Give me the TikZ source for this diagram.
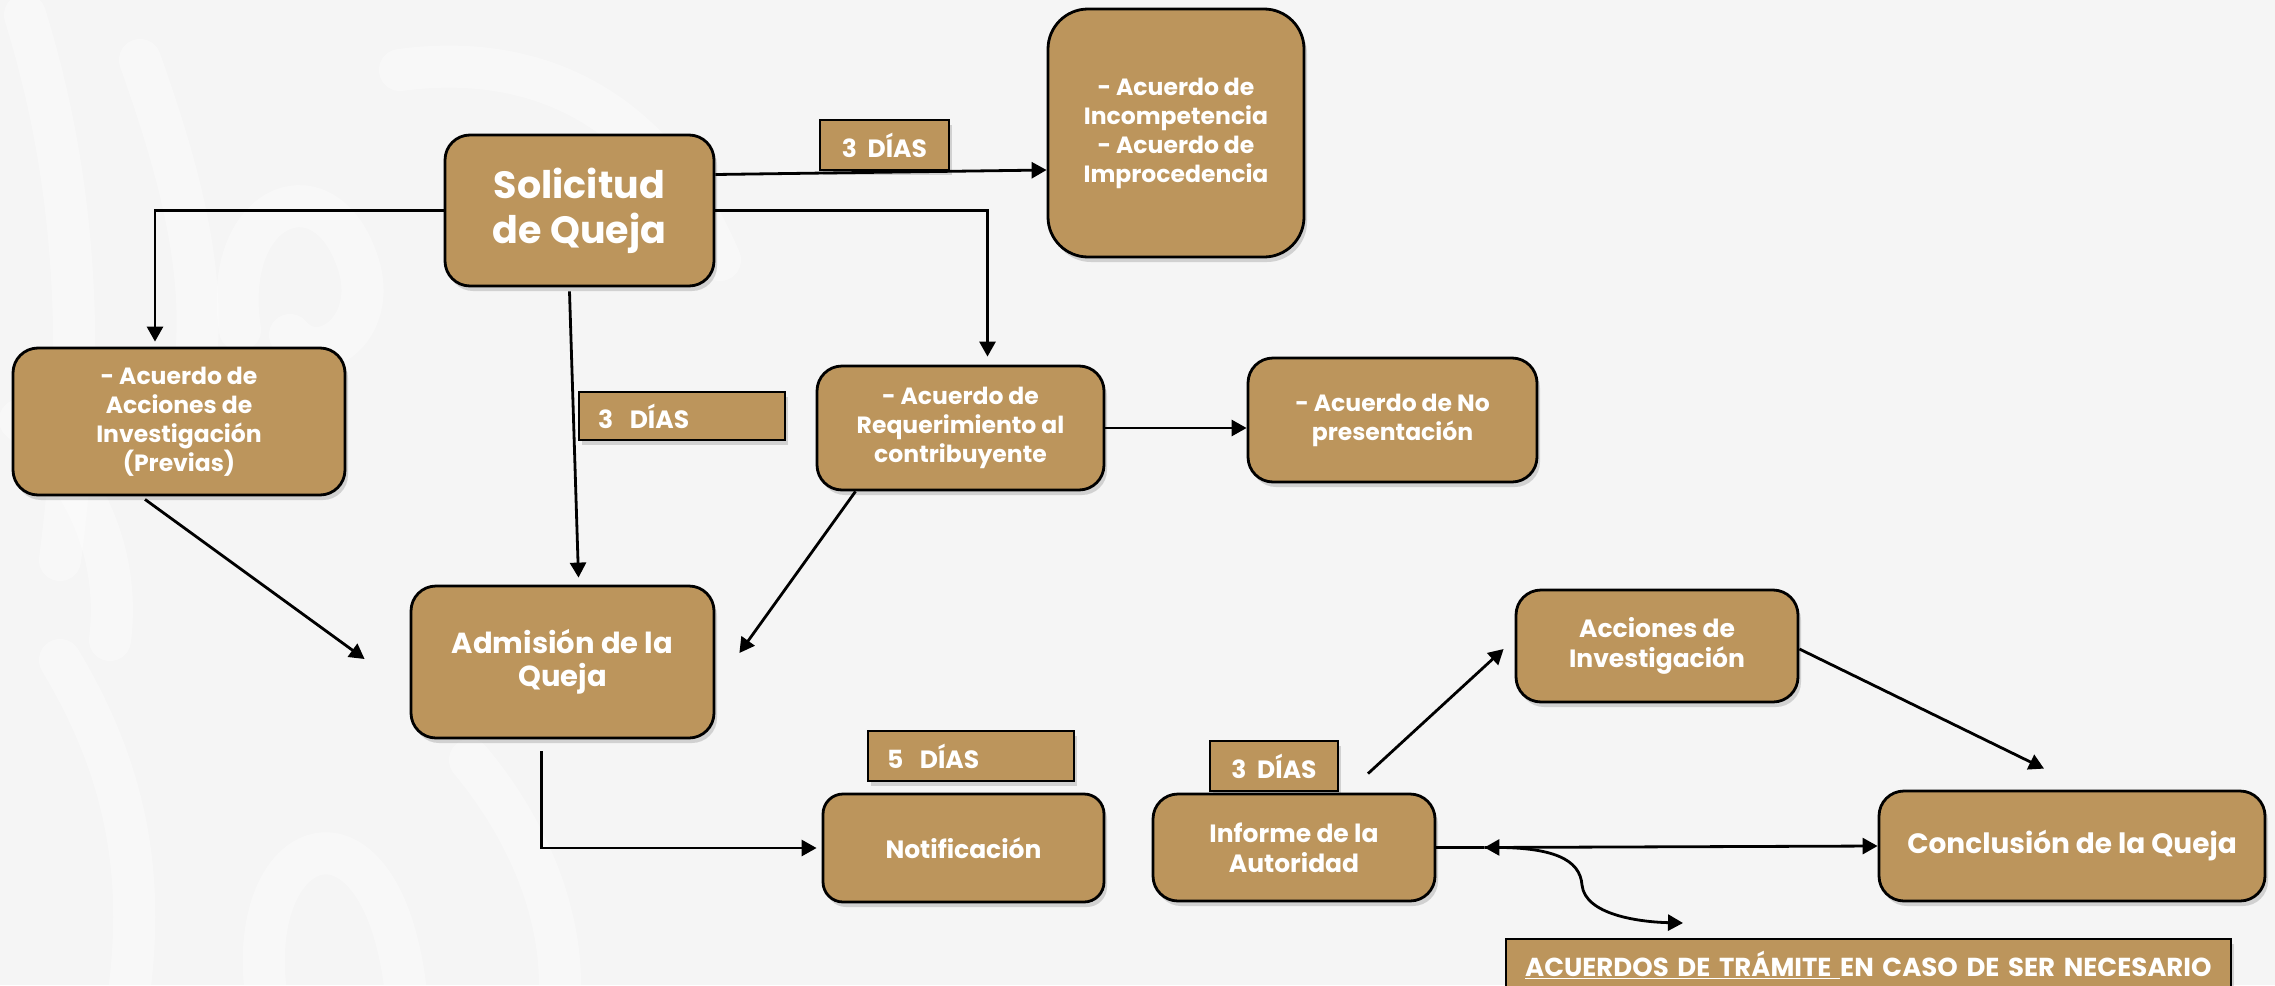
\documentclass[tikz,border=0pt]{standalone}
\usepackage{fontspec}
\setmainfont{Poppins}
\usetikzlibrary{arrows.meta,calc,shadows}
\definecolor{gold}{RGB}{188,149,92}
\definecolor{bgc}{RGB}{245,245,245}
\begin{document}
\begin{tikzpicture}[x=1pt,y=-1pt,
  box/.style={draw=black, line width=2.8pt, fill=gold, rounded corners=25pt, text=white,
    font=\bfseries\fontsize{23.5}{29}\selectfont, align=center, inner sep=0pt,
    drop shadow={shadow xshift=3pt,shadow yshift=-5pt,opacity=0.3}},
  mid/.style={font=\bfseries\fontsize{25}{30}\selectfont},
  big/.style={font=\bfseries\fontsize{29}{33}\selectfont},
  days/.style={draw=black, line width=2.2pt, fill=gold, text=white,
    font=\bfseries\fontsize{25}{29}\selectfont, inner sep=0pt,
    drop shadow={shadow xshift=3pt,shadow yshift=-5pt,opacity=0.3}},
  arr/.style={line width=2.8pt, -{Triangle[length=15pt,width=16pt]}},
  ln/.style={line width=2.8pt},
  wm/.style={white, line width=42pt, line cap=round, opacity=0.35}]
\fill[bgc] (0,0) rectangle (2275,985);
\useasboundingbox (0,0) rectangle (2275,985);
% faint watermark swirls
\draw[wm] (25,15) .. controls (70,160) and (90,330) .. (60,560);
\draw[wm] (140,60) .. controls (190,200) and (210,300) .. (190,400);
\draw[wm] (240,330) .. controls (220,200) and (330,160) .. (360,270) .. controls (375,330) and (320,370) .. (290,335);
\draw[wm] (400,70) .. controls (550,50) and (660,120) .. (720,260);
\draw[wm] (60,660) .. controls (120,760) and (145,860) .. (130,985);
\draw[wm] (265,985) .. controls (250,830) and (380,790) .. (405,985);
\draw[wm] (470,760) .. controls (520,820) and (560,900) .. (560,985);
\draw[wm] (20,420) .. controls (90,480) and (120,560) .. (110,640);

\node[box, minimum width=269pt, minimum height=151pt, font=\bfseries\fontsize{38}{45}\selectfont] (sol) at (579.5,210.5) {Solicitud\\de Queja};
\node[box, rounded corners=40pt, minimum width=256pt, minimum height=248pt] (inc) at (1176,133) {- Acuerdo de\\Incompetencia\\- Acuerdo de\\Improcedencia};
\node[days, minimum width=129pt, minimum height=50pt] (d1) at (884.5,145) {3\ \ DÍAS};
\node[box, minimum width=332pt, minimum height=147pt] (prev) at (179,421.5) {- Acuerdo de\\Acciones de\\Investigación\\(Previas)};
\node[days, minimum height=48pt, text width=168pt, inner xsep=19pt, align=left] (d2) at (682,416) {3\ \ DÍAS};
\node[box, minimum width=287pt, minimum height=124pt] (req) at (960.5,428) {- Acuerdo de\\Requerimiento al\\contribuyente};
\node[box, minimum width=289pt, minimum height=124pt] (nop) at (1392.5,420) {- Acuerdo de No\\presentación};
\node[box, big, minimum width=303pt, minimum height=152pt] (adm) at (562.5,662) {Admisión de la\\Queja};
\node[days, minimum height=50pt, text width=168pt, inner xsep=19pt, align=left] (d3) at (971,756) {5\ \ DÍAS};
\node[box, mid, rounded corners=20pt, minimum width=281pt, minimum height=108pt] (noti) at (963.5,848) {Notificación};
\node[box, mid, minimum width=282pt, minimum height=112pt] (acc) at (1657,646) {Acciones de\\Investigación};
\node[days, minimum width=128pt, minimum height=50pt] (d4) at (1274,766) {3\ \ DÍAS};
\node[box, mid, minimum width=282pt, minimum height=107pt] (inf) at (1294,847.5) {Informe de la\\Autoridad};
\node[box, minimum width=386pt, minimum height=110pt, font=\bfseries\fontsize{28}{33}\selectfont] (conc) at (2072,846) {Conclusión de la Queja};
\node[days, anchor=north west, minimum height=52pt, text width=687pt, inner xsep=19pt, align=left, font=\bfseries\fontsize{26}{30}\selectfont] (acu) at (1505,938) {\underline{ACUERDOS DE TRÁMITE\ }EN CASO DE SER NECESARIO};

% connectors
\draw[arr] ($(sol.east)+(0,-36)$) -- ($(inc.west)+(0,37)$);
\draw[arr] (sol.west) -| ($(prev.north)+(-24,-5)$);
\draw[arr] (sol.east) -| ($(req.north)+(27,-8)$);
\draw[arr] ($(sol.south)+(-10,4)$) -- ($(adm.north)+(16,-7)$);
\draw[arr] ($(prev.south)+(-34,3)$) -- ($(adm.west)+(-45,-3)$);
\draw[arr] ($(req.south)+(-105,0)$) -- ($(adm.east)+(24,-9)$);
\draw[arr] (req.east) -- (req.east -| nop.west);
\draw[arr] ($(adm.south)+(-21,12)$) |- ($(noti.west)+(-5,0)$);
\draw[arr] ($(inf.north)+(74,-19)$) -- ($(acc.west)+(-11,3)$);
\draw[arr] ($(acc.east)+(0,3)$) -- ($(conc.north)+(-28,-21)$);
\coordinate (split) at ($(inf.east)+(48,0)$);
\coordinate (curveend) at (1683,923);
\draw[ln] (inf.east) -- (split);
\draw[arr, {Triangle[length=15pt,width=16pt]}-{Triangle[length=15pt,width=16pt]}] (split) -- (conc.west);
\draw[arr] (split) .. controls (1555,846) and (1580,860) .. (1582,885) .. controls (1585,915) and (1640,922) .. (curveend);
\end{tikzpicture}
\end{document}
